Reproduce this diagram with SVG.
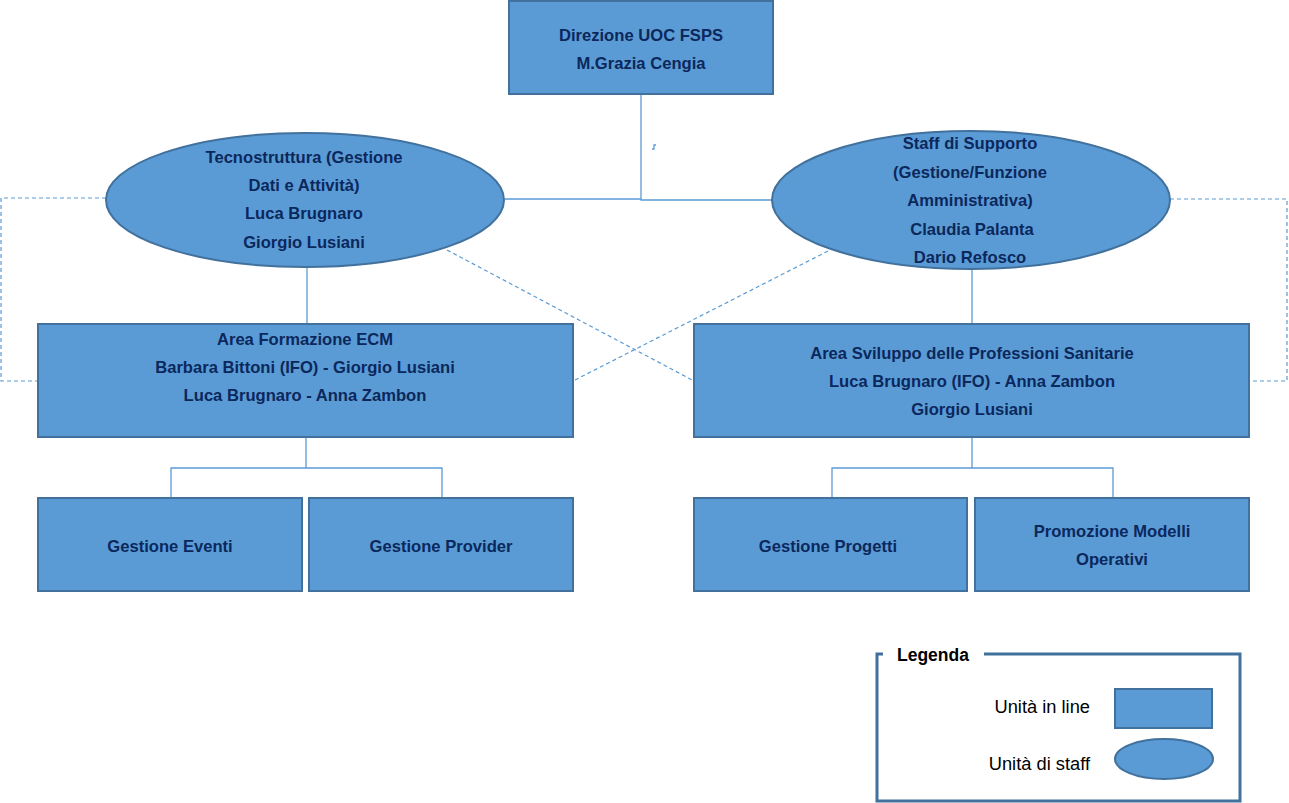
<svg xmlns="http://www.w3.org/2000/svg" width="1289" height="803" viewBox="0 0 1289 803">
<style>
.n{fill:#5B9BD5;stroke:#41719C;stroke-width:2}
.t{font-family:"Liberation Sans",Arial,sans-serif;font-weight:bold;font-size:16.6px;fill:#0B285C;text-anchor:middle;dominant-baseline:central}
.c{fill:none;stroke:#5B9BD5;stroke-width:1.3}
.d{fill:none;stroke:#5B9BD5;stroke-width:1.2;stroke-dasharray:4 3}
.l{font-family:"Liberation Sans",Arial,sans-serif;font-size:18.3px;fill:#000;dominant-baseline:central}
</style>
<rect width="1289" height="803" fill="#fff"/>
<g id="connectors">
<path class="c" d="M641,94 V199 H505 M641,199 V200 H772"/>
<path class="c" d="M652,149 h2 v-4 h2"/>
<path class="c" d="M307,267 V324"/>
<path class="c" d="M972,269 V324"/>
<path class="c" d="M306,437 V468 M171,497 V468 H442 V497"/>
<path class="c" d="M972,437 V468 M832,497 V468 H1113 V497"/>
<path class="d" d="M106,198 H1 V381 H38"/>
<path class="d" d="M1170,199 H1287 V381 H1249"/>
<path class="d" d="M447,250 L694,381"/>
<path class="d" d="M828,251 L573,381"/>
</g>
<g id="direzione">
<rect class="n" x="509" y="1" width="264" height="93"/>
<text class="t" x="641" y="35">Direzione UOC FSPS</text>
<text class="t" x="641" y="63">M.Grazia Cengia</text>
</g>
<g id="tecnostruttura">
<ellipse class="n" cx="305" cy="200" rx="199" ry="67"/>
<text class="t" x="304" y="157">Tecnostruttura (Gestione</text>
<text class="t" x="304" y="185">Dati e Attività)</text>
<text class="t" x="304" y="213">Luca Brugnaro</text>
<text class="t" x="304" y="242">Giorgio Lusiani</text>
</g>
<g id="staff">
<ellipse class="n" cx="971" cy="200" rx="199" ry="69"/>
<text class="t" x="970" y="143">Staff di Supporto</text>
<text class="t" x="970" y="172">(Gestione/Funzione</text>
<text class="t" x="970" y="200">Amministrativa)</text>
<text class="t" x="972" y="229">Claudia Palanta</text>
<text class="t" x="970" y="257">Dario Refosco</text>
</g>
<g id="area-formazione">
<rect class="n" x="38" y="324" width="535" height="113"/>
<text class="t" x="305" y="339">Area Formazione ECM</text>
<text class="t" x="305" y="367">Barbara Bittoni (IFO) - Giorgio Lusiani</text>
<text class="t" x="305" y="395">Luca Brugnaro - Anna Zambon</text>
</g>
<g id="area-sviluppo">
<rect class="n" x="694" y="324" width="555" height="113"/>
<text class="t" x="972" y="353">Area Sviluppo delle Professioni Sanitarie</text>
<text class="t" x="972" y="381">Luca Brugnaro (IFO) - Anna Zambon</text>
<text class="t" x="972" y="409">Giorgio Lusiani</text>
</g>
<g id="gestione-eventi">
<rect class="n" x="38" y="498" width="264" height="93"/>
<text class="t" x="170" y="546">Gestione Eventi</text>
</g>
<g id="gestione-provider">
<rect class="n" x="309" y="498" width="264" height="93"/>
<text class="t" x="441" y="546">Gestione Provider</text>
</g>
<g id="gestione-progetti">
<rect class="n" x="694" y="498" width="273" height="93"/>
<text class="t" x="828" y="546">Gestione Progetti</text>
</g>
<g id="promozione-modelli">
<rect class="n" x="975" y="498" width="274" height="93"/>
<text class="t" x="1112" y="531">Promozione Modelli</text>
<text class="t" x="1112" y="559">Operativi</text>
</g>
<g id="legenda">
<path d="M883,654 H877 V801 H1240 V654 H984" fill="none" stroke="#41719C" stroke-width="3"/>
<text x="897" y="655" font-family="'Liberation Sans',Arial,sans-serif" font-weight="bold" font-size="17.5" fill="#000" dominant-baseline="central">Legenda</text>
<text class="l" x="1090" y="706" text-anchor="end">Unità in line</text>
<text class="l" x="1090" y="763" text-anchor="end">Unità di staff</text>
<rect class="n" x="1115" y="689" width="97" height="39"/>
<ellipse class="n" cx="1164" cy="759" rx="49" ry="20"/>
</g>
</svg>
